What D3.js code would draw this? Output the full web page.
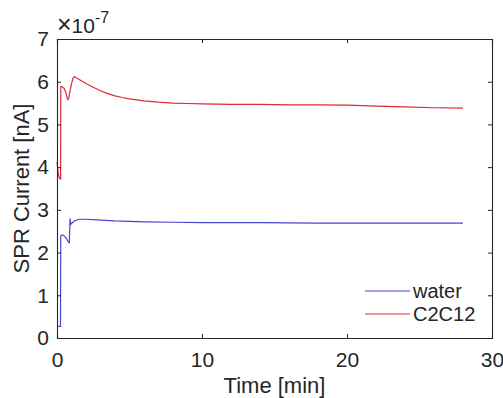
<!DOCTYPE html>
<html>
<head>
  <script src="https://d3js.org/d3.v7.min.js"></script>
  <style>
    body { margin: 0; background: #fff; }
    .chart text {
      fill: #262626;
      font-family: "Liberation Sans", Arial, sans-serif;
    }
    .axis path, .axis line { stroke: #262626; }
  </style>
</head>
<body>
  <svg class="chart"></svg>
  <script>
    // values are in units of 1e-7 (see the exponent label)
    var waterTime = [0.08, 0.15, 0.24, 0.26, 0.3, 0.4, 0.5, 0.6, 0.7, 0.8, 0.85, 0.9, 0.95, 1.0, 1.2, 1.5, 2, 3, 4, 5, 6, 8, 10, 14, 18, 22, 26, 28];
    var waterValue = [0.27, 0.27, 0.27, 2.38, 2.41, 2.41, 2.39, 2.35, 2.3, 2.24, 2.23, 2.8, 2.66, 2.68, 2.74, 2.78, 2.78, 2.76, 2.74, 2.73, 2.72, 2.71, 2.70, 2.70, 2.69, 2.69, 2.69, 2.69];

    var c2c12Time = [0, 0.05, 0.1, 0.15, 0.2, 0.25, 0.26, 0.3, 0.4, 0.5, 0.6, 0.7, 0.75, 0.8, 0.9, 1.0, 1.1, 1.2, 1.5, 2, 2.5, 3, 3.5, 4, 4.5, 5, 6, 7, 8, 9, 10, 12, 14, 16, 18, 20, 22, 24, 26, 28];
    var c2c12Value = [4.13, 3.95, 3.83, 3.76, 3.73, 3.72, 5.88, 5.89, 5.87, 5.84, 5.76, 5.62, 5.58, 5.6, 5.78, 5.95, 6.08, 6.12, 6.06, 5.96, 5.87, 5.79, 5.72, 5.67, 5.63, 5.6, 5.55, 5.52, 5.5, 5.49, 5.48, 5.47, 5.47, 5.46, 5.46, 5.45, 5.43, 5.41, 5.39, 5.38];

    var xTicks = [0, 10, 20, 30];
    var yTicks = [0, 1, 2, 3, 4, 5, 6, 7];
    var seriesNames = ['water', 'C2C12'];
    var seriesColors = ['#4646d2', '#d92c38'];

    var width = 503, height = 398;
    var margin = { top: 39, right: 11, bottom: 60, left: 57 };
    var w = width - margin.left - margin.right;
    var h = height - margin.top - margin.bottom;

    var svg = d3.select('.chart')
      .attr('width', width)
      .attr('height', height);

    var x = d3.scaleLinear().domain([0, 30]).range([0, w]);
    var y = d3.scaleLinear().domain([0, 7]).range([h, 0]);

    var g = svg.append('g')
      .attr('transform', 'translate(' + margin.left + ',' + margin.top + ')');

    var series = [
      { name: seriesNames[0], color: seriesColors[0], t: waterTime, v: waterValue },
      { name: seriesNames[1], color: seriesColors[1], t: c2c12Time, v: c2c12Value }
    ];

    var line = d3.line()
      .x(function (d) { return x(d[0]); })
      .y(function (d) { return y(d[1]); });

    series.forEach(function (s) {
      g.append('path')
        .datum(d3.zip(s.t, s.v))
        .attr('fill', 'none')
        .attr('stroke', s.color)
        .attr('stroke-width', 1.2)
        .attr('d', line);
    });

    // axes, ticks pointing inward like matlab
    var fs = '21px';
    var fmt = d3.format('d');
    g.append('g').attr('class', 'axis')
      .attr('transform', 'translate(0,' + h + ')')
      .call(d3.axisBottom(x).tickValues(xTicks).tickFormat(fmt).tickSize(-4).tickPadding(14))
      .call(function (a) { a.selectAll('text').style('font-size', fs); });
    g.append('g').attr('class', 'axis')
      .call(d3.axisLeft(y).tickValues(yTicks).tickFormat(fmt).tickSize(-4).tickPadding(8))
      .call(function (a) { a.selectAll('text').style('font-size', fs); });
    g.append('g').attr('class', 'axis')
      .call(d3.axisTop(x).tickValues(xTicks).tickSize(-4).tickFormat(''));
    g.append('g').attr('class', 'axis')
      .attr('transform', 'translate(' + w + ',0)')
      .call(d3.axisRight(y).tickValues(yTicks).tickSize(-4).tickFormat(''));
    g.selectAll('.axis path').attr('stroke-width', 1.1);

    // exponent label
    var ex = svg.append('text')
      .attr('x', margin.left)
      .attr('y', 33);
    ex.append('tspan').style('font-size', '25px').text('\u00d7');
    ex.append('tspan').style('font-size', '21px').text('10');
    ex.append('tspan').attr('dy', -10).style('font-size', '16px').text('-7');

    svg.append('text')
      .attr('x', margin.left + w / 2)
      .attr('y', 393)
      .attr('text-anchor', 'middle')
      .style('font-size', '22px')
      .text('Time [min]');

    svg.append('text')
      .attr('transform', 'translate(29,' + (margin.top + h / 2) + ') rotate(-90)')
      .attr('text-anchor', 'middle')
      .style('font-size', '22px')
      .text('SPR Current [nA]');

    // legend without box
    var leg = g.append('g').attr('transform', 'translate(308,252)');
    series.forEach(function (s, i) {
      leg.append('line')
        .attr('x1', 0).attr('x2', 45)
        .attr('y1', i * 23).attr('y2', i * 23)
        .attr('stroke', s.color)
        .attr('stroke-width', 1.2);
      leg.append('text')
        .attr('x', 48)
        .attr('y', i * 23)
        .attr('dy', '0.35em')
        .style('font-size', '20px')
        .text(s.name);
    });
  </script>
</body>
</html>
